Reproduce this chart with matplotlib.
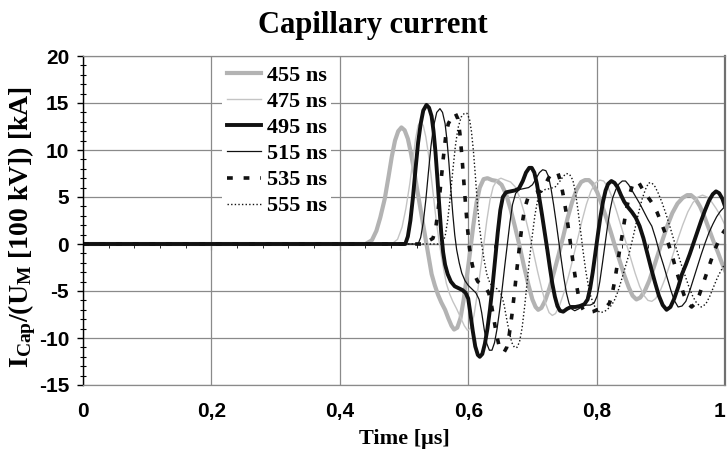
import matplotlib
matplotlib.use("Agg")
import matplotlib.pyplot as plt
from matplotlib.ticker import MultipleLocator

# ---------------- data ----------------
labels = ["455 ns", "475 ns", "495 ns", "515 ns", "535 ns", "555 ns"]

t455 = [0, 0.440, 0.450, 0.457, 0.463, 0.470, 0.476, 0.481, 0.486, 0.491, 0.496, 0.501, 0.506, 0.511, 0.516, 0.521, 0.526, 0.531, 0.535, 0.539, 0.543, 0.548, 0.553, 0.558, 0.564, 0.569, 0.574, 0.578, 0.583, 0.588, 0.593, 0.598, 0.603, 0.608, 0.613, 0.618, 0.624, 0.630, 0.637, 0.645, 0.652, 0.659, 0.666, 0.673, 0.680, 0.687, 0.694, 0.700, 0.705, 0.709, 0.714, 0.720, 0.727, 0.734, 0.741, 0.748, 0.755, 0.762, 0.769, 0.776, 0.782, 0.788, 0.794, 0.801, 0.808, 0.815, 0.822, 0.829, 0.836, 0.843, 0.850, 0.856, 0.862, 0.868, 0.875, 0.882, 0.889, 0.896, 0.903, 0.910, 0.918, 0.926, 0.934, 0.941, 0.947, 0.954, 0.961, 0.968, 0.975, 0.982, 0.989, 0.995, 1.000]
i455 = [0, 0, 0.4, 1.4, 2.8, 4.8, 7.2, 9.3, 11.0, 12.0, 12.4, 12.1, 11.2, 9.6, 7.7, 5.6, 3.6, 1.6, 0.0, -1.6, -3.2, -4.4, -5.4, -6.2, -7.0, -7.9, -8.7, -9.1, -8.9, -7.9, -5.9, -3.4, -0.8, 2.0, 4.4, 6.0, 6.9, 7.0, 6.8, 6.7, 6.3, 5.3, 3.7, 1.8, -0.2, -2.4, -4.4, -5.9, -6.7, -7.0, -6.8, -6.0, -4.6, -2.9, -1.1, 0.8, 2.8, 4.5, 5.8, 6.6, 6.8, 6.8, 6.4, 5.5, 4.2, 2.8, 1.3, -0.3, -1.8, -3.3, -4.6, -5.5, -5.9, -5.7, -5.0, -3.9, -2.5, -1.0, 0.5, 1.9, 3.3, 4.3, 4.9, 5.2, 5.2, 4.8, 4.0, 2.9, 1.6, 0.3, -0.9, -2.0, -2.8]

t475 = [0, 0.481, 0.490, 0.497, 0.503, 0.509, 0.514, 0.518, 0.522, 0.526, 0.530, 0.534, 0.538, 0.542, 0.546, 0.550, 0.554, 0.558, 0.562, 0.566, 0.571, 0.576, 0.582, 0.588, 0.594, 0.599, 0.604, 0.609, 0.614, 0.619, 0.624, 0.629, 0.634, 0.639, 0.645, 0.651, 0.658, 0.666, 0.673, 0.680, 0.687, 0.694, 0.701, 0.708, 0.715, 0.721, 0.726, 0.731, 0.736, 0.742, 0.749, 0.756, 0.763, 0.770, 0.777, 0.784, 0.791, 0.798, 0.805, 0.811, 0.818, 0.825, 0.832, 0.839, 0.846, 0.853, 0.860, 0.867, 0.874, 0.880, 0.886, 0.892, 0.899, 0.906, 0.913, 0.920, 0.927, 0.934, 0.942, 0.950, 0.958, 0.965, 0.972, 0.979, 0.986, 0.993, 1.000]
i475 = [0, 0, 0.5, 1.8, 3.8, 6.4, 9.0, 11.2, 12.6, 13.0, 12.6, 11.4, 9.6, 7.4, 5.0, 2.6, 0.6, -1.2, -2.8, -4.2, -5.3, -6.1, -6.9, -7.8, -8.7, -9.2, -8.9, -7.6, -5.4, -2.8, -0.2, 2.5, 4.7, 6.1, 6.8, 7.0, 6.8, 6.6, 6.1, 5.0, 3.4, 1.4, -0.7, -2.9, -4.9, -6.4, -7.3, -7.6, -7.4, -6.6, -5.2, -3.5, -1.6, 0.4, 2.4, 4.2, 5.6, 6.5, 6.8, 6.7, 6.0, 4.8, 3.3, 1.7, 0.1, -1.5, -3.1, -4.5, -5.5, -6.0, -6.1, -5.8, -5.0, -3.8, -2.4, -0.9, 0.6, 2.0, 3.4, 4.4, 5.0, 5.2, 5.0, 4.5, 3.8, 3.0, 2.0]

t495 = [0, 0.502, 0.506, 0.510, 0.514, 0.518, 0.522, 0.526, 0.530, 0.535, 0.539, 0.543, 0.546, 0.549, 0.552, 0.555, 0.558, 0.561, 0.564, 0.568, 0.573, 0.579, 0.585, 0.591, 0.596, 0.600, 0.603, 0.607, 0.611, 0.615, 0.618, 0.622, 0.626, 0.630, 0.634, 0.638, 0.642, 0.646, 0.650, 0.654, 0.659, 0.666, 0.673, 0.679, 0.685, 0.690, 0.695, 0.699, 0.703, 0.707, 0.711, 0.715, 0.719, 0.723, 0.727, 0.731, 0.735, 0.739, 0.743, 0.748, 0.754, 0.760, 0.767, 0.774, 0.781, 0.786, 0.790, 0.794, 0.798, 0.802, 0.806, 0.810, 0.814, 0.818, 0.823, 0.828, 0.833, 0.838, 0.843, 0.849, 0.855, 0.861, 0.867, 0.873, 0.879, 0.885, 0.891, 0.897, 0.903, 0.909, 0.915, 0.921, 0.927, 0.933, 0.939, 0.945, 0.951, 0.957, 0.963, 0.969, 0.975, 0.981, 0.986, 0.991, 0.996, 1.000]
i495 = [0, 0, 0.8, 2.5, 5.0, 8.0, 10.8, 12.8, 14.2, 14.8, 14.5, 13.6, 12.0, 9.8, 7.0, 4.0, 1.2, -0.9, -2.2, -3.2, -4.0, -4.5, -4.7, -4.9, -5.2, -5.8, -7.2, -9.2, -10.9, -11.8, -12.0, -11.7, -10.6, -9.0, -6.9, -4.4, -1.6, 1.2, 3.6, 5.0, 5.5, 5.6, 5.7, 5.9, 6.7, 7.6, 8.1, 8.1, 7.6, 6.4, 4.8, 3.1, 1.3, -0.5, -2.4, -4.2, -5.6, -6.6, -7.1, -7.2, -6.9, -6.7, -6.7, -6.6, -6.4, -5.9, -4.7, -3.0, -1.0, 1.0, 2.9, 4.5, 5.7, 6.4, 6.7, 6.5, 6.0, 5.2, 4.5, 3.9, 3.4, 2.8, 1.9, 0.6, -1.0, -2.6, -4.1, -5.5, -6.5, -7.0, -6.7, -5.8, -4.6, -3.2, -2.2, -1.1, 0.1, 1.3, 2.5, 3.6, 4.6, 5.3, 5.6, 5.4, 4.8, 4.0]

t515 = [0, 0.522, 0.526, 0.530, 0.534, 0.538, 0.542, 0.546, 0.551, 0.556, 0.560, 0.564, 0.567, 0.570, 0.573, 0.576, 0.579, 0.582, 0.586, 0.590, 0.595, 0.600, 0.606, 0.612, 0.617, 0.621, 0.625, 0.629, 0.633, 0.637, 0.641, 0.645, 0.649, 0.653, 0.657, 0.661, 0.665, 0.669, 0.674, 0.680, 0.687, 0.694, 0.700, 0.706, 0.711, 0.716, 0.721, 0.725, 0.729, 0.733, 0.737, 0.741, 0.745, 0.749, 0.753, 0.757, 0.761, 0.766, 0.772, 0.778, 0.784, 0.790, 0.796, 0.801, 0.805, 0.809, 0.813, 0.817, 0.821, 0.825, 0.830, 0.835, 0.840, 0.845, 0.850, 0.856, 0.862, 0.868, 0.874, 0.880, 0.886, 0.892, 0.898, 0.904, 0.910, 0.916, 0.921, 0.927, 0.933, 0.939, 0.945, 0.951, 0.957, 0.963, 0.969, 0.975, 0.981, 0.987, 0.993, 1.000]
i515 = [0, 0, 0.7, 2.3, 4.7, 7.6, 10.4, 12.5, 14.0, 14.4, 14.0, 12.8, 11.0, 8.6, 5.8, 3.2, 1.0, -0.6, -2.0, -3.1, -3.9, -4.4, -4.8, -5.2, -5.9, -7.3, -9.1, -10.6, -11.3, -11.3, -10.5, -9.0, -7.0, -4.7, -2.3, 0.0, 2.3, 4.2, 5.4, 5.8, 5.9, 6.0, 6.3, 7.0, 7.6, 7.9, 7.8, 7.2, 5.9, 4.2, 2.3, 0.3, -1.7, -3.6, -5.2, -6.3, -6.9, -7.1, -6.9, -6.6, -6.5, -6.5, -6.3, -5.5, -4.0, -2.1, -0.1, 1.9, 3.6, 4.9, 5.8, 6.4, 6.7, 6.7, 6.3, 5.6, 4.9, 4.2, 3.4, 2.6, 1.9, 0.6, -0.9, -2.2, -3.6, -5.0, -6.0, -6.7, -6.6, -6.1, -5.0, -3.7, -2.4, -1.1, 0.1, 1.2, 2.1, 2.9, 3.5, 4.0]

t535 = [0, 0.535, 0.540, 0.545, 0.549, 0.553, 0.557, 0.561, 0.565, 0.569, 0.573, 0.576, 0.580, 0.584, 0.587, 0.590, 0.593, 0.596, 0.599, 0.602, 0.606, 0.610, 0.615, 0.621, 0.627, 0.632, 0.636, 0.640, 0.644, 0.648, 0.652, 0.656, 0.660, 0.664, 0.668, 0.672, 0.676, 0.680, 0.684, 0.688, 0.693, 0.699, 0.706, 0.713, 0.719, 0.725, 0.730, 0.735, 0.740, 0.744, 0.748, 0.752, 0.756, 0.760, 0.764, 0.768, 0.772, 0.776, 0.781, 0.787, 0.794, 0.801, 0.808, 0.815, 0.820, 0.824, 0.828, 0.832, 0.836, 0.840, 0.844, 0.848, 0.852, 0.856, 0.861, 0.866, 0.871, 0.876, 0.882, 0.888, 0.894, 0.900, 0.906, 0.912, 0.918, 0.924, 0.930, 0.936, 0.942, 0.948, 0.954, 0.960, 0.966, 0.972, 0.978, 0.984, 0.990, 0.995, 1.000]
i535 = [0, 0, 0.4, 0.6, 1.5, 3.5, 6.2, 9.0, 11.5, 12.8, 13.3, 13.8, 13.9, 13.3, 11.8, 9.5, 6.8, 4.1, 1.6, -0.4, -2.1, -3.3, -4.0, -4.3, -4.6, -5.2, -6.4, -8.0, -9.6, -10.8, -11.4, -11.5, -11.0, -9.6, -7.6, -5.2, -2.6, -0.2, 2.1, 3.8, 4.9, 5.3, 5.5, 5.6, 6.2, 7.0, 7.5, 7.7, 7.5, 6.6, 5.2, 3.6, 1.7, -0.3, -2.3, -4.1, -5.6, -6.6, -7.2, -7.3, -7.2, -7.0, -6.9, -6.7, -6.3, -5.4, -4.0, -2.3, -0.6, 1.0, 2.7, 4.2, 5.4, 6.3, 6.7, 6.5, 5.9, 5.3, 4.8, 4.2, 3.4, 2.4, 1.3, 0.0, -1.3, -2.8, -4.1, -5.4, -6.3, -6.7, -6.3, -5.4, -4.2, -3.0, -1.8, -0.6, 0.3, 1.0, 1.5]

t555 = [0, 0.559, 0.564, 0.568, 0.572, 0.576, 0.580, 0.584, 0.589, 0.594, 0.598, 0.602, 0.605, 0.608, 0.611, 0.614, 0.617, 0.621, 0.625, 0.629, 0.634, 0.640, 0.646, 0.652, 0.656, 0.660, 0.664, 0.668, 0.672, 0.676, 0.680, 0.684, 0.688, 0.692, 0.696, 0.700, 0.704, 0.708, 0.713, 0.720, 0.728, 0.736, 0.742, 0.748, 0.753, 0.758, 0.763, 0.767, 0.771, 0.775, 0.779, 0.783, 0.787, 0.791, 0.796, 0.801, 0.807, 0.814, 0.821, 0.827, 0.833, 0.838, 0.844, 0.850, 0.856, 0.861, 0.866, 0.871, 0.876, 0.881, 0.886, 0.891, 0.896, 0.902, 0.908, 0.914, 0.920, 0.926, 0.932, 0.938, 0.944, 0.950, 0.956, 0.963, 0.970, 0.976, 0.982, 0.988, 0.994, 1.000]
i555 = [0, 0, 0.8, 2.5, 5.0, 7.8, 10.4, 12.3, 13.5, 13.9, 13.9, 13.3, 12.0, 10.0, 7.4, 4.6, 2.1, 0.0, -1.8, -3.2, -4.2, -4.6, -4.8, -5.4, -6.5, -8.0, -9.4, -10.5, -11.0, -11.0, -10.4, -8.9, -6.6, -3.9, -1.3, 1.0, 3.1, 4.6, 5.5, 5.8, 5.9, 6.1, 6.6, 7.2, 7.5, 7.4, 6.8, 5.5, 3.6, 1.4, -0.8, -2.8, -4.4, -5.6, -6.5, -7.1, -7.3, -7.1, -6.7, -6.1, -5.1, -4.0, -2.6, -1.2, 0.5, 2.0, 3.5, 4.8, 5.8, 6.5, 6.5, 6.1, 5.4, 4.4, 3.2, 1.9, 0.5, -0.9, -2.2, -3.4, -4.6, -5.6, -6.3, -6.7, -6.4, -5.6, -4.6, -3.6, -2.8, -2.1]

x_ticks = [0, 0.2, 0.4, 0.6, 0.8, 1.0]
x_tick_labels = ["0", "0,2", "0,4", "0,6", "0,8", "1"]
y_ticks = [-15, -10, -5, 0, 5, 10, 15, 20]

# ---------------- styling ----------------
plt.rcParams['axes.unicode_minus'] = False
plt.rcParams['mathtext.fontset'] = 'custom'
plt.rcParams['mathtext.rm'] = 'Liberation Serif:bold'
plt.rcParams['mathtext.it'] = 'Liberation Serif:bold'
plt.rcParams['mathtext.bf'] = 'Liberation Serif:bold'

SERIF = 'Liberation Serif'
SANS = 'Liberation Sans'

fig = plt.figure(figsize=(7.27, 4.51), dpi=100)
ax = fig.add_axes([83/727, 1-385/451, 642/727, 329/451])

series = [
    (t455, i455, dict(color='#b3b3b3', lw=3.0, ls='-')),
    (t475, i475, dict(color='#c4c4c4', lw=1.0, ls='-')),
    (t495, i495, dict(color='#111111', lw=2.8, ls='-')),
    (t515, i515, dict(color='#111111', lw=0.9, ls='-')),
    (t535, i535, dict(color='#111111', lw=2.6, ls=(0, (1.6, 3.0)))),
    (t555, i555, dict(color='#111111', lw=1.0, ls=(0, (1.0, 1.6)))),
]
for (t, i, st), lab in zip(series, labels):
    ax.plot(t, i, label=lab, solid_joinstyle='round', **st)

ax.set_xlim(0, 1)
ax.set_ylim(-15, 20)
ax.set_xticks(x_ticks)
ax.set_xticklabels(x_tick_labels)
ax.set_yticks(y_ticks)
ax.yaxis.set_minor_locator(MultipleLocator(1))
ax.grid(True, which='major', color='#8a8a8a', lw=0.9)
ax.set_axisbelow(True)

for s in ['top', 'bottom']:
    ax.spines[s].set_color('#8a8a8a')
    ax.spines[s].set_linewidth(0.9)
ax.spines['right'].set_color('#707070')
ax.spines['right'].set_linewidth(1.6)
ax.spines['left'].set_color('black')
ax.spines['left'].set_linewidth(1.0)

ax.tick_params(axis='x', which='both', length=0, pad=12)
ax.tick_params(axis='y', which='major', direction='out', length=4, width=1, pad=6)
ax.tick_params(axis='y', which='minor', direction='inout', length=4, width=0.8)
for lbl in ax.get_xticklabels() + ax.get_yticklabels():
    lbl.set_fontfamily(SANS)
    lbl.set_fontweight('bold')
    lbl.set_fontsize(15)
ax.get_xticklabels()[-1].set_horizontalalignment('right')

# x axis crossing at y = 0 with small tick marks
sec = ax.secondary_xaxis(15/35)
sec.set_xticks(x_ticks)
sec.xaxis.set_minor_locator(MultipleLocator(0.04))
sec.tick_params(which='major', direction='out', length=4, labelbottom=False, labeltop=False)
sec.tick_params(which='minor', direction='out', length=3)
sec.spines['bottom'].set_color('black')
sec.set_xticklabels([])

ax.set_xlabel('Time [μs]', fontfamily=SERIF, fontweight='bold', fontsize=16, labelpad=6)
ax.set_ylabel(r'I$_{\rm Cap}$/(U$_{\rm M}$ [100 kV]) [kA]', fontfamily=SERIF,
              fontweight='bold', fontsize=20)
ax.yaxis.set_label_coords(-0.095, 0.48)
ax.yaxis.label.set_verticalalignment('center')

fig.text(373/727, 1-25/451, 'Capillary current', ha='center', va='center',
         fontfamily=SERIF, fontweight='bold', fontsize=22)

leg = ax.legend(loc='upper left', bbox_to_anchor=(0.217, 0.985), borderaxespad=0,
                prop=dict(family=SERIF, weight='bold', size=16), frameon=True,
                facecolor='white', edgecolor='none', framealpha=1, fancybox=False,
                handlelength=1.55, handletextpad=0.25, labelspacing=0.25, borderpad=0.2)
leg.set_zorder(5)

fig.savefig('out.png', dpi=100)
